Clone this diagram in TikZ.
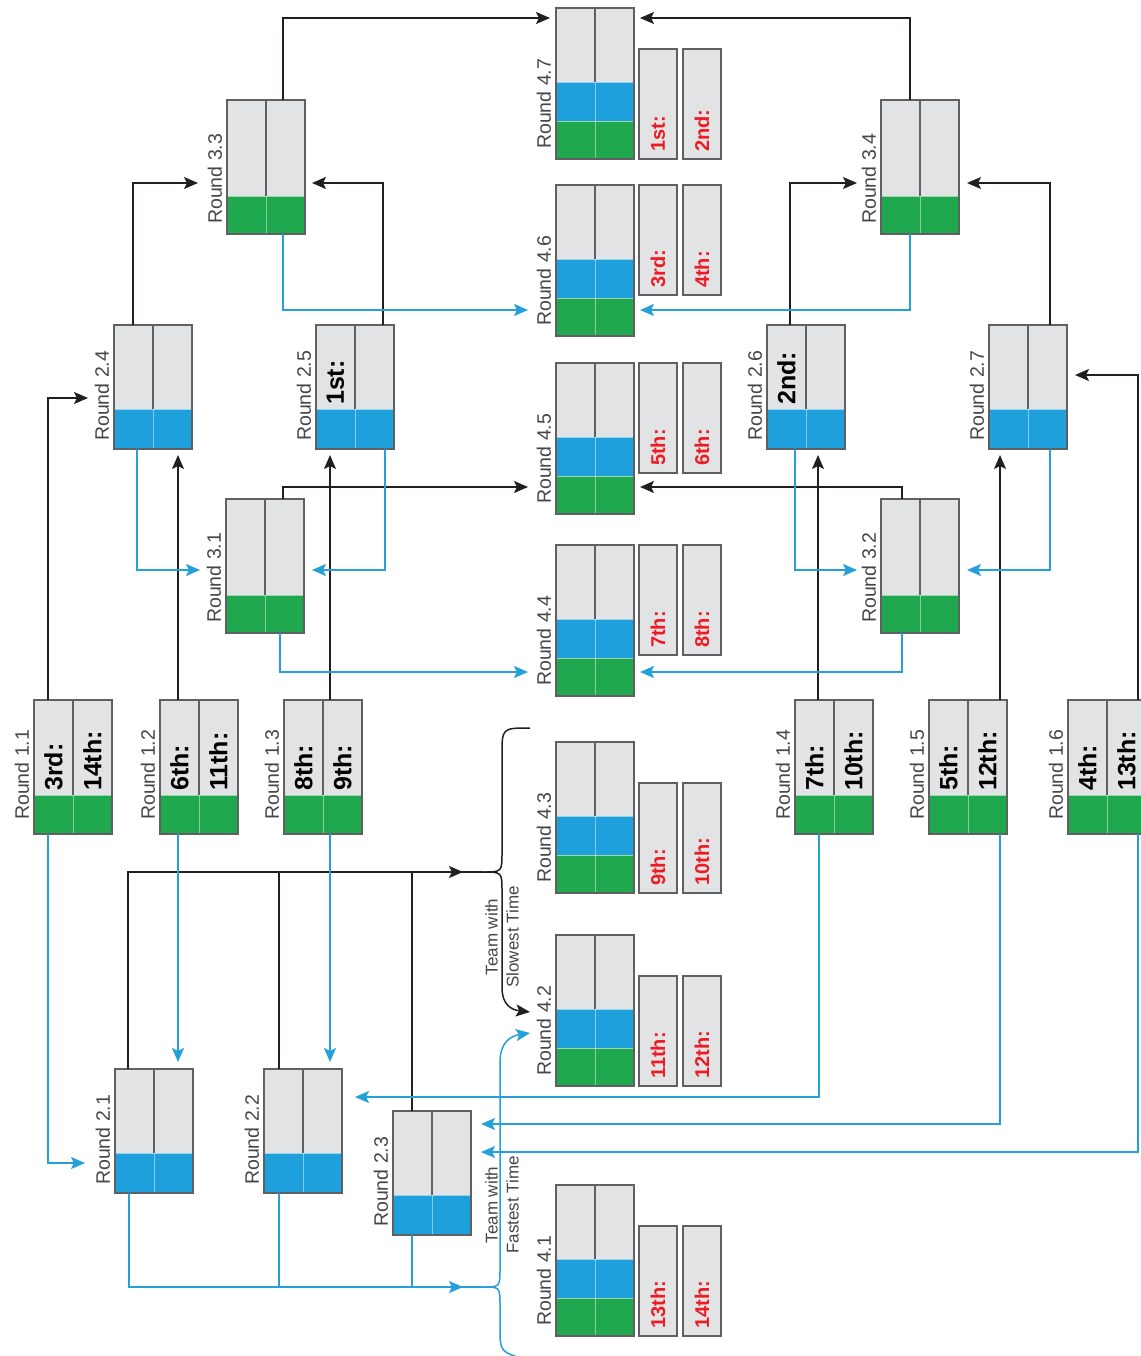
\documentclass[tikz,border=0pt]{standalone}
\usepackage{fontspec}
\setmainfont{Liberation Sans}
\usetikzlibrary{calc,arrows.meta}
\definecolor{boxgray}{RGB}{226,227,229}
\definecolor{edgegray}{RGB}{95,96,98}
\definecolor{tgreen}{RGB}{32,168,78}
\definecolor{tblue}{RGB}{30,160,220}
\definecolor{lblue}{RGB}{38,160,216}
\definecolor{lblack}{RGB}{35,31,32}
\definecolor{tred}{RGB}{237,28,36}
\definecolor{lbltext}{RGB}{70,70,72}
\tikzset{
  tipw/.tip={Stealth[length=14pt,width=12pt,inset=3pt]},
  win/.style={draw=lblack, line width=1.5pt, -tipw},
  winline/.style={draw=lblack, line width=1.5pt},
  lose/.style={draw=lblue, line width=1.5pt, -tipw},
  loseline/.style={draw=lblue, line width=1.5pt},
  rlabel/.style={rotate=90, anchor=west, inner sep=0pt, text=lbltext, font=\fontsize{19.5}{22}\selectfont},
  seed/.style={rotate=90, anchor=west, inner sep=0pt, text=black, font=\bfseries\fontsize{25}{28}\selectfont},
  placetxt/.style={rotate=90, anchor=west, inner sep=0pt, text=tred, font=\bfseries\fontsize{20}{24}\selectfont},
  note/.style={rotate=90, align=center, inner sep=0pt, text=lbltext, font=\fontsize{17}{21}\selectfont},
}
% name, left, top, gray h, blue h, green h, label, text A, text B
\newcommand\mkround[9]{%
  \pgfmathsetmacro\xL{#2}%
  \pgfmathsetmacro\xM{#2+39}%
  \pgfmathsetmacro\xR{#2+78}%
  \pgfmathsetmacro\yT{#3}%
  \pgfmathsetmacro\yC{#3+#4}%
  \pgfmathsetmacro\yG{#3+#4+#5}%
  \pgfmathsetmacro\yB{#3+#4+#5+#6}%
  \pgfmathsetmacro\hh{#4+#5+#6}%
  \fill[boxgray] (\xL,\yT) rectangle (\xR,\yB);
  \ifdim #5pt>0pt \fill[tblue] (\xL,\yC) rectangle (\xR,\yG); \fi
  \ifdim #6pt>0pt \fill[tgreen] (\xL,\yG) rectangle (\xR,\yB); \fi
  \draw[white, opacity=.55, line width=.9pt] (\xL,\yC) -- (\xR,\yC);
  \ifdim #5pt>0pt \ifdim #6pt>0pt
    \draw[white, opacity=.55, line width=.9pt] (\xL,\yG) -- (\xR,\yG);
  \fi\fi
  \draw[white, opacity=.45, line width=.8pt] (\xM,\yC) -- (\xM,\yB);
  \draw[edgegray, line width=2.8pt] (\xM,\yT) -- (\xM,\yC);
  \draw[edgegray, line width=1.2pt] (\xL,\yT) rectangle (\xR,\yB);
  \node[inner sep=0pt, outer sep=0pt, minimum width=78pt, minimum height=\hh pt, anchor=north west] (#1) at (\xL,\yT) {};
  \node[rlabel] (#1-lab) at (\xL-12,\yB-\lgap) {#7};
  \node[seed] (#1-a) at (\xL+19.5,\yC-4) {#8};
  \node[seed] (#1-b) at (\xM+19.5,\yC-4) {#9};
}
% name, left, top, text
\newcommand\mkres[4]{%
  \draw[fill=boxgray, draw=edgegray, line width=1.2pt] (#2,#3) rectangle (#2+38,#3+110);
  \node[placetxt] (#1) at (#2+19,#3+103) {#4};
}
\begin{document}
\begin{tikzpicture}[x=1pt,y=-1pt]
\useasboundingbox (0,0) rectangle (1140,1356);
\fill[white] (0,0) rectangle (1140,1356);

% Round 1
\def\lgap{14}
\mkround{r11}{34}{700}{95}{0}{39}{Round 1.1}{3rd:}{14th:}
\mkround{r12}{160}{700}{95}{0}{39}{Round 1.2}{6th:}{11th:}
\mkround{r13}{284}{700}{95}{0}{39}{Round 1.3}{8th:}{9th:}
\mkround{r14}{795}{700}{95}{0}{39}{Round 1.4}{7th:}{10th:}
\mkround{r15}{929}{700}{95}{0}{39}{Round 1.5}{5th:}{12th:}
\mkround{r16}{1068}{700}{95}{0}{39}{Round 1.6}{4th:}{13th:}

% Round 2
\def\lgap{8}
\mkround{r21}{115}{1069}{84}{40}{0}{Round 2.1}{}{}
\mkround{r22}{264}{1069}{84}{40}{0}{Round 2.2}{}{}
\mkround{r23}{393}{1111}{84}{40}{0}{Round 2.3}{}{}
\mkround{r24}{114}{325}{84}{40}{0}{Round 2.4}{}{}
\mkround{r25}{316}{325}{84}{40}{0}{Round 2.5}{1st:}{}
\mkround{r26}{767}{325}{84}{40}{0}{Round 2.6}{2nd:}{}
\mkround{r27}{989}{325}{84}{40}{0}{Round 2.7}{}{}

% Round 3
\def\lgap{10}
\mkround{r31}{226}{499}{96}{0}{38}{Round 3.1}{}{}
\mkround{r32}{881}{499}{96}{0}{38}{Round 3.2}{}{}
\mkround{r33}{227}{100}{96}{0}{38}{Round 3.3}{}{}
\mkround{r34}{881}{100}{96}{0}{38}{Round 3.4}{}{}

% Round 4
\def\lgap{10}
\mkround{r47}{556}{8}{74}{39}{38}{Round 4.7}{}{}
\mkres{p1}{639}{49}{1st:}\mkres{p2}{683}{49}{2nd:}
\mkround{r46}{556}{185}{74}{39}{38}{Round 4.6}{}{}
\mkres{p3}{639}{185}{3rd:}\mkres{p4}{683}{185}{4th:}
\mkround{r45}{556}{363}{74}{39}{38}{Round 4.5}{}{}
\mkres{p5}{639}{363}{5th:}\mkres{p6}{683}{363}{6th:}
\mkround{r44}{556}{545}{74}{39}{38}{Round 4.4}{}{}
\mkres{p7}{639}{545}{7th:}\mkres{p8}{683}{545}{8th:}
\mkround{r43}{556}{742}{74}{39}{38}{Round 4.3}{}{}
\mkres{p9}{639}{783}{9th:}\mkres{p10}{683}{783}{10th:}
\mkround{r42}{556}{935}{74}{39}{38}{Round 4.2}{}{}
\mkres{p11}{639}{976}{11th:}\mkres{p12}{683}{976}{12th:}
\mkround{r41}{556}{1185}{74}{39}{38}{Round 4.1}{}{}
\mkres{p13}{639}{1226}{13th:}\mkres{p14}{683}{1226}{14th:}

% ---------- winners (black) ----------
\draw[win] ($(r11.north west)+(14,0)$) |- ($(r24.north west)+(-26,73)$);
\draw[win] ($(r12.north west)+(18,0)$) -- ($(r24.south west)+(64,6)$);
\draw[win] ($(r13.north west)+(46,0)$) -- ($(r25.south west)+(14,6)$);
\draw[win] ($(r14.north west)+(23,0)$) -- ($(r26.south west)+(51,6)$);
\draw[win] ($(r15.north west)+(71,0)$) -- ($(r27.south west)+(11,6)$);
\draw[win] ($(r16.north west)+(70,0)$) |- ($(r27.north east)+(8,50)$);
\draw[win] ($(r24.north west)+(19,0)$) |- ($(r33.north west)+(-29,83)$);
\draw[win] ($(r25.north west)+(67,0)$) |- ($(r33.north east)+(7,83)$);
\draw[win] ($(r26.north west)+(23,0)$) |- ($(r34.north west)+(-24,83)$);
\draw[win] ($(r27.north west)+(61,0)$) |- ($(r34.north east)+(8,83)$);
\draw[win] ($(r33.north west)+(56,0)$) |- ($(r47.north west)+(-6,10)$);
\draw[win] ($(r34.north west)+(29,0)$) |- ($(r47.north east)+(6,10)$);
\draw[win] ($(r31.north west)+(57,0)$) |- ($(r45.north west)+(-28,124)$);
\draw[win] ($(r32.north west)+(21,0)$) |- ($(r45.north east)+(6,124)$);

\coordinate (J1) at (483,872);
\coordinate (S1) at (530,728);
\draw[win] ($(r21.north west)+(13,0)$) |- ($(J1)+(-20,0)$);
\draw[winline] ($(J1)+(-22,0)$) -- (J1);
\draw[winline] ($(r22.north west)+(15,0)$) coordinate (t22) -- (t22 |- J1);
\draw[winline] ($(r23.north west)+(19,0)$) coordinate (t23) -- (t23 |- J1);
\draw[winline] (J1) .. controls (502,872) .. (502,852) -- (502,755) .. controls (502,728) .. (S1);
\draw[win] (J1) .. controls (502,872) .. (502,892) -- (502,988) .. controls (502,1005) and (512,1010) .. ($(r42.north west)+(-26,77)$);
\node[note] (n1) at (502,937) {Team with\\Slowest Time};

% ---------- losers (blue) ----------
\draw[lose] ($(r11.south west)+(14,0)$) |- ($(r21.north west)+(-30,94)$);
\draw[lose] ($(r12.south west)+(18,0)$) -- ($(r21.north west)+(63,-7)$);
\draw[lose] ($(r13.south west)+(46,0)$) -- ($(r22.north west)+(66,-7)$);
\draw[lose] ($(r14.south west)+(24,0)$) |- ($(r22.north east)+(13,28)$);
\draw[lose] ($(r15.south west)+(71,0)$) |- ($(r23.north east)+(10,13)$);
\draw[lose] ($(r16.south west)+(70,0)$) |- ($(r23.north east)+(10,41)$);
\draw[lose] ($(r24.south west)+(23,0)$) |- ($(r31.north west)+(-26,71)$);
\draw[lose] ($(r25.south west)+(69,0)$) |- ($(r31.north east)+(8,71)$);
\draw[lose] ($(r26.south west)+(28,0)$) |- ($(r32.north west)+(-24,71)$);
\draw[lose] ($(r27.south west)+(61,0)$) |- ($(r32.north east)+(8,71)$);
\draw[lose] ($(r33.south west)+(56,0)$) |- ($(r46.north west)+(-28,125)$);
\draw[lose] ($(r34.south west)+(29,0)$) |- ($(r46.north east)+(6,125)$);
\draw[lose] ($(r31.south west)+(54,0)$) |- ($(r44.north west)+(-28,127)$);
\draw[lose] ($(r32.south west)+(21,0)$) |- ($(r44.north east)+(6,127)$);

\coordinate (J2) at (483,1287);
\coordinate (E2) at (528,1360);
\draw[lose] ($(r21.south west)+(14,0)$) |- ($(J2)+(-20,0)$);
\draw[loseline] ($(J2)+(-22,0)$) -- (J2);
\draw[loseline] ($(r22.south west)+(15,0)$) coordinate (b22) -- (b22 |- J2);
\draw[loseline] ($(r23.south west)+(19,0)$) coordinate (b23) -- (b23 |- J2);
\draw[lose] (J2) .. controls (500,1287) .. (500,1268) -- (500,1062) .. controls (500,1043) and (510,1036) .. ($(r42.north west)+(-26,98)$);
\draw[loseline] (J2) .. controls (500,1287) .. (500,1306) -- (500,1328) .. controls (500,1352) .. (E2);
\node[note] (n2) at (502,1205) {Team with\\Fastest Time};
\end{tikzpicture}
\end{document}
